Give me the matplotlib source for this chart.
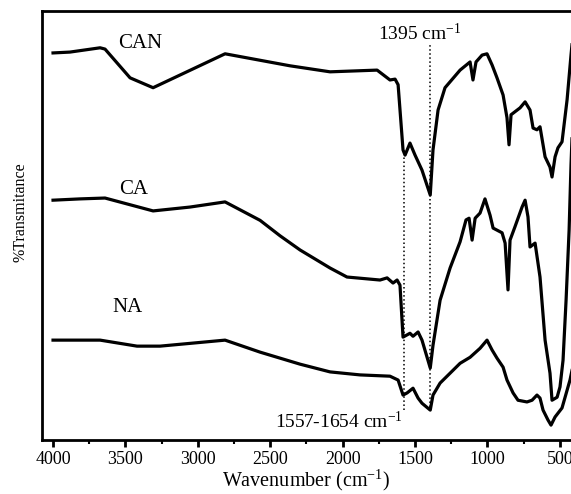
import matplotlib
matplotlib.use("Agg")
import matplotlib.pyplot as plt
from matplotlib.ticker import MultipleLocator

plt.rcParams["font.family"] = ["Liberation Serif", "DejaVu Serif"]
plt.rcParams["mathtext.fontset"] = "custom"
plt.rcParams["mathtext.rm"] = "Liberation Serif"
plt.rcParams["mathtext.it"] = "Liberation Serif:italic"

# FTIR spectra, wavenumber (cm-1) vs. offset transmittance
can_wn = [4000, 3883, 3675, 3641, 3468, 3309, 2812, 2363, 2087, 1762, 1673, 1638,
          1617, 1583, 1569, 1535, 1500, 1452, 1395, 1376, 1341, 1293, 1189, 1120,
          1100, 1079, 1037, 1003, 968, 934, 892, 865, 851, 837, 810, 775, 740, 706,
          685, 658, 637, 602, 568, 554, 533, 513, 485, 450, 423, 405]
can_t = [90.2, 90.4, 91.4, 91.1, 84.4, 82.1, 90.0, 87.2, 85.8, 86.2, 83.9, 84.1,
         82.8, 67.6, 66.4, 69.2, 66.4, 62.9, 57.1, 67.6, 76.9, 82.1, 86.2, 88.1,
         83.9, 88.1, 89.7, 90.0, 87.4, 84.4, 80.4, 75.1, 68.8, 75.8, 76.5, 77.4,
         78.8, 76.9, 72.7, 72.3, 73.0, 66.0, 63.6, 61.3, 66.0, 68.1, 69.5, 79.3,
         89.7, 96.0]

ca_wn = [4000, 3814, 3641, 3309, 3054, 2812, 2570, 2432, 2294, 2087, 1970, 1742,
         1693, 1652, 1624, 1604, 1583, 1535, 1514, 1479, 1452, 1395, 1376, 1327,
         1258, 1189, 1148, 1127, 1106, 1085, 1051, 1017, 982, 961, 899, 878, 858,
         844, 810, 761, 740, 720, 706, 671, 637, 602, 568, 554, 519, 499, 478, 457,
         436, 423, 405]
ca_t = [55.9, 56.2, 56.4, 53.4, 54.3, 55.5, 51.2, 47.6, 44.3, 40.1, 38.0, 37.3,
        37.8, 36.6, 37.3, 36.1, 24.0, 24.9, 24.2, 25.2, 23.3, 16.8, 22.1, 32.6,
        40.1, 46.2, 51.3, 51.7, 46.6, 51.7, 52.9, 56.2, 52.4, 49.4, 48.3, 45.9,
        35.0, 46.6, 49.7, 54.3, 55.9, 52.0, 45.0, 45.9, 38.0, 23.3, 15.6, 9.3,
        10.0, 12.4, 18.6, 32.6, 49.0, 64.1, 80.0]

na_wn = [4000, 3675, 3420, 3261, 2812, 2570, 2432, 2294, 2087, 1880, 1673, 1617,
         1583, 1555, 1514, 1479, 1452, 1395, 1376, 1327, 1189, 1120, 1051, 1003,
         968, 934, 892, 865, 823, 789, 727, 692, 658, 637, 616, 582, 561, 533, 485,
         430, 405]
na_t = [23.3, 23.3, 21.9, 21.9, 23.3, 20.5, 19.1, 17.7, 15.9, 15.2, 14.9, 14.0,
        10.5, 11.0, 12.1, 9.8, 8.6, 7.0, 10.5, 13.3, 17.9, 19.3, 21.4, 23.3,
        21.0, 19.1, 17.0, 14.0, 11.0, 9.3, 8.9, 9.3, 10.5, 9.8, 7.0, 4.7, 3.5,
        5.4, 7.5, 14.0, 18.0]

series = [("CAN", can_wn, can_t, 3399, 92.5),
          ("CA", ca_wn, ca_t, 3441, 58.3),
          ("NA", na_wn, na_t, 3486, 30.8)]

peak_main = 1395
peak_band = 1575

fig = plt.figure(figsize=(5.71, 4.94), dpi=100)
ax = fig.add_axes([0.0736, 0.109, 0.9264, 0.869])

for name, wn, t, lx, ly in series:
    ax.plot(wn, t, color="black", linewidth=2.3, solid_joinstyle="round")
    ax.text(lx, ly, name, fontsize=15, ha="center", va="center")

# marker lines for the carboxylate bands
ax.plot([peak_main, peak_main], [7.7, 92.1], color="black", linestyle=":", linewidth=1.1)
ax.plot([peak_band, peak_band], [7.0, 66.4], color="black", linestyle=":", linewidth=1.1)
ax.text(1755, 93.2, "1395 cm$^{\\mathrm{-1}}$", fontsize=14, ha="left", va="baseline")
ax.text(2467, 2.8, "1557-1654 cm$^{\\mathrm{-1}}$", fontsize=14, ha="left", va="baseline")

ax.set_xlim(4076, 423)
ax.set_ylim(0, 100)
ax.xaxis.set_major_locator(MultipleLocator(500))
ax.xaxis.set_minor_locator(MultipleLocator(250))
ax.set_yticks([])
ax.tick_params(axis="x", which="major", direction="out", length=5, width=2,
               labelsize=13, pad=3)
ax.tick_params(axis="x", which="minor", direction="out", length=3, width=1.5)

for side in ["left", "bottom", "top"]:
    ax.spines[side].set_linewidth(2)
ax.spines["right"].set_visible(False)

ax.set_xlabel("Wavenumber (cm$^{\\mathrm{-1}}$)", fontsize=14.5, labelpad=0)
ax.set_ylabel("%Transmitance", fontsize=11.5)
ax.yaxis.set_label_coords(-0.026, 0.53)

fig.savefig("out.png", dpi=100)
